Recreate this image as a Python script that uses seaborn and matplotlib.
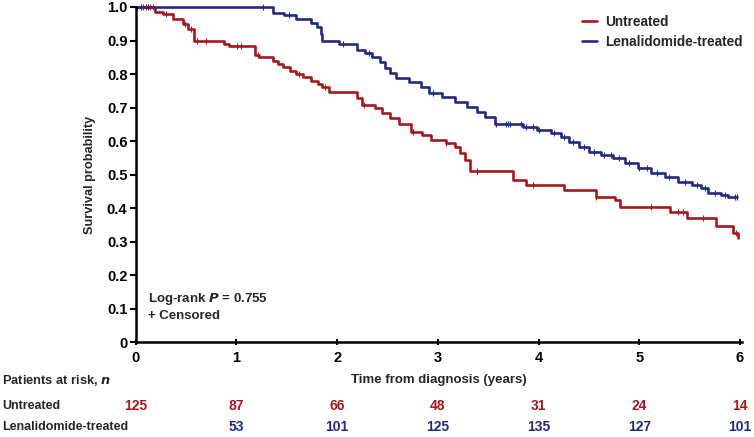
import numpy as np
import pandas as pd
import matplotlib
matplotlib.use("Agg")
import matplotlib.pyplot as plt
import matplotlib.transforms as mtransforms
import seaborn as sns

# Kaplan-Meier steps (time in years, survival probability)
untreated_time = [0, 0.19, 0.27, 0.37, 0.47, 0.52, 0.58, 0.88, 0.93, 1.18, 1.22,
                  1.36, 1.41, 1.46, 1.53, 1.59, 1.66, 1.74, 1.81, 1.85, 1.92,
                  2.20, 2.25, 2.38, 2.45, 2.53, 2.61, 2.73, 2.84, 2.93, 3.08,
                  3.17, 3.22, 3.27, 3.32, 3.75, 3.88, 4.25, 4.57, 4.76, 4.81,
                  5.31, 5.47, 5.76, 5.93, 5.98]
untreated_surv = [1.0, 0.986, 0.978, 0.965, 0.950, 0.935, 0.900, 0.890, 0.885, 0.857, 0.850,
                  0.840, 0.830, 0.820, 0.810, 0.800, 0.790, 0.780, 0.770, 0.760, 0.746,
                  0.728, 0.707, 0.698, 0.683, 0.668, 0.650, 0.627, 0.618, 0.603, 0.594,
                  0.582, 0.564, 0.543, 0.510, 0.484, 0.469, 0.455, 0.433, 0.424, 0.403,
                  0.388, 0.370, 0.347, 0.327, 0.310]

lenalidomide_time = [0, 1.36, 1.47, 1.59, 1.74, 1.80, 1.84, 1.85, 2.02, 2.20, 2.28,
                     2.35, 2.43, 2.48, 2.53, 2.58, 2.71, 2.83, 2.91, 3.04, 3.17,
                     3.29, 3.39, 3.47, 3.57, 3.85, 3.98, 4.12, 4.22, 4.30, 4.40,
                     4.50, 4.62, 4.74, 4.86, 4.99, 5.12, 5.26, 5.39, 5.52, 5.61,
                     5.68, 5.81, 5.88, 5.97]
lenalidomide_surv = [1.0, 0.983, 0.976, 0.964, 0.953, 0.940, 0.920, 0.898, 0.890, 0.872, 0.862,
                     0.850, 0.836, 0.818, 0.803, 0.788, 0.776, 0.761, 0.743, 0.731, 0.716,
                     0.701, 0.687, 0.672, 0.651, 0.642, 0.633, 0.624, 0.612, 0.597, 0.582,
                     0.567, 0.558, 0.549, 0.534, 0.519, 0.504, 0.493, 0.478, 0.469, 0.460,
                     0.445, 0.439, 0.433, 0.433]

# censoring times
untreated_censor = [0.07, 0.10, 0.14, 0.17, 0.30, 0.49, 0.55, 0.61, 0.70, 1.01, 1.05,
                    1.21, 1.62, 1.88, 2.27, 2.75, 3.08, 3.39, 3.95, 4.57, 5.12, 5.39,
                    5.43, 5.63, 5.96]
lenalidomide_censor = [0.05, 0.12, 1.26, 1.52, 2.06, 2.32, 2.95, 3.58, 3.68, 3.70, 3.72,
                       3.83, 3.88, 3.95, 4.00, 4.15, 4.25, 4.34, 4.45, 4.55, 4.65,
                       4.72, 4.80, 4.90, 5.00, 5.08, 5.18, 5.30, 5.45, 5.57, 5.65,
                       5.75, 5.85, 5.95, 5.97]

# patients at risk table
risk_years = [0, 1, 2, 3, 4, 5, 6]
risk_untreated = ["125", "87", "66", "48", "31", "24", "14"]
risk_lenalidomide = ["", "53", "101", "125", "135", "127", "101"]

groups = ["Untreated", "Lenalidomide-treated"]
colors = {"Untreated": "#a3191f", "Lenalidomide-treated": "#242a7c"}


def surv_at(times, surv, t):
    idx = np.searchsorted(times, t, side="right") - 1
    return np.asarray(surv)[idx]


curves = pd.concat([
    pd.DataFrame({"time": untreated_time, "survival": untreated_surv, "group": groups[0]}),
    pd.DataFrame({"time": lenalidomide_time, "survival": lenalidomide_surv, "group": groups[1]}),
])
censors = pd.concat([
    pd.DataFrame({"time": untreated_censor,
                  "survival": surv_at(untreated_time, untreated_surv, untreated_censor),
                  "group": groups[0]}),
    pd.DataFrame({"time": lenalidomide_censor,
                  "survival": surv_at(lenalidomide_time, lenalidomide_surv, lenalidomide_censor),
                  "group": groups[1]}),
])

sns.set_theme(style="ticks")
plt.rcParams["font.family"] = ["Liberation Sans", "DejaVu Sans"]
plt.rcParams["font.weight"] = "bold"

fig = plt.figure(figsize=(7.54, 4.37), dpi=100)
ax = fig.add_axes([0.180, 0.217, 0.804, 0.767])

sns.lineplot(data=curves, x="time", y="survival", hue="group", hue_order=groups,
             palette=colors, drawstyle="steps-post", estimator=None,
             linewidth=1.9, ax=ax)
for line in ax.lines:
    line.set_clip_on(False)

for g in groups:
    sub = censors[censors["group"] == g]
    ax.scatter(sub["time"], sub["survival"], marker="|", s=20, linewidths=0.8,
               color=colors[g], clip_on=False, zorder=3)

ax.set_xlim(0, 6.02)
ax.set_ylim(0, 1.0)
ax.set_xticks(risk_years)
ax.set_xticklabels([str(v) for v in risk_years])
yticks = np.round(np.arange(0, 1.01, 0.1), 1)
ax.set_yticks(yticks)
ax.set_yticklabels(["0"] + [f"{v:.1f}" for v in yticks[1:]])
ax.tick_params(axis="both", labelsize=10.5, width=1.5, length=4, colors="black", pad=2)
ax.tick_params(axis="x", direction="inout", pad=4)
sns.despine(ax=ax)
for side in ["left", "bottom"]:
    ax.spines[side].set_linewidth(1.8)
    ax.spines[side].set_color("black")

ax.set_xlabel("Time from diagnosis (years)", fontsize=9.5, fontweight="bold", labelpad=7)
ax.set_ylabel("Survival probability", fontsize=9.2, fontweight="bold", labelpad=8)

handles, labels = ax.get_legend_handles_labels()
ax.legend(handles, labels, loc="upper left", bbox_to_anchor=(0.722, 1.0), frameon=False,
          fontsize=9.8, handlelength=1.1, handletextpad=0.6, labelspacing=0.4,
          borderaxespad=0.2)

ax.text(0.02, 0.13, "Log-rank $\\mathit{P}$ = 0.755", transform=ax.transAxes,
        fontsize=9.5, fontweight="bold", va="center")
ax.text(0.02, 0.077, "+ Censored", transform=ax.transAxes,
        fontsize=9.5, fontweight="bold", va="center")

# at-risk table below the axis
trans = mtransforms.blended_transform_factory(ax.transData, fig.transFigure)
fig.text(0.003, 1 - 381 / 437, "Patients at risk, $\\mathit{n}$", fontsize=9.3,
         fontweight="bold", va="center")
fig.text(0.003, 1 - 406 / 437, "Untreated", fontsize=9, fontweight="bold", va="center")
fig.text(0.003, 1 - 427 / 437, "Lenalidomide-treated", fontsize=9, fontweight="bold",
         va="center")
for t, a, b in zip(risk_years, risk_untreated, risk_lenalidomide):
    ax.text(t, 1 - 406 / 437, a, transform=trans, ha="center", va="center",
            fontsize=10, fontweight="bold", color=colors[groups[0]], clip_on=False)
    ax.text(t, 1 - 427 / 437, b, transform=trans, ha="center", va="center",
            fontsize=10, fontweight="bold", color=colors[groups[1]], clip_on=False)

fig.savefig("out.png", dpi=100)
plt.close(fig)
